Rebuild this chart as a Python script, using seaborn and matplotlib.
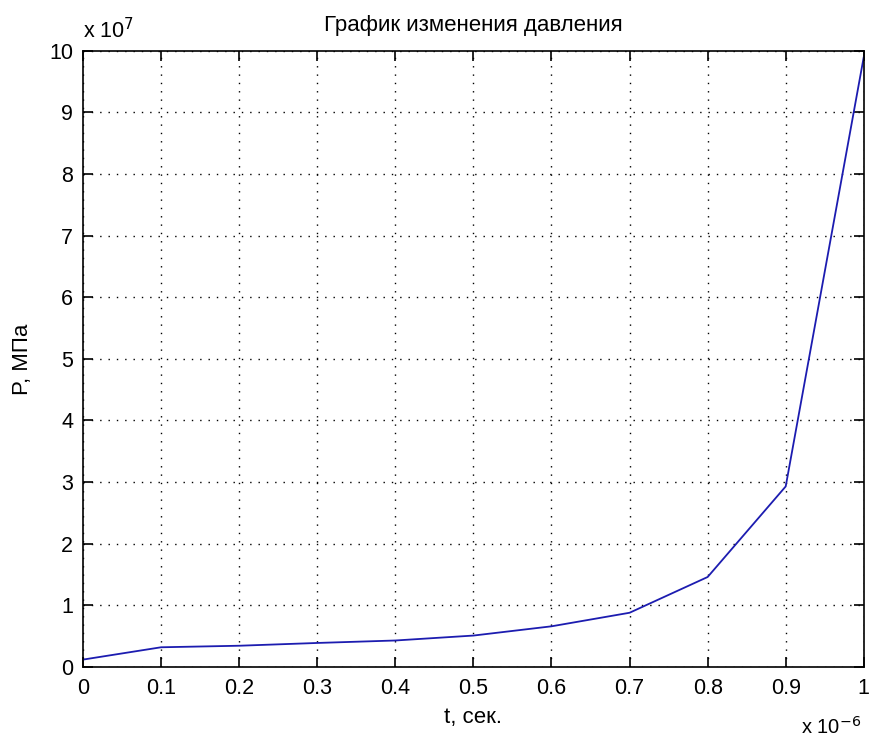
import matplotlib
matplotlib.use("Agg")
import matplotlib.pyplot as plt
import seaborn as sns
import pandas as pd

# Data (time in seconds, pressure in Pa)
t_values = [0.0, 0.1e-6, 0.2e-6, 0.3e-6, 0.4e-6, 0.5e-6, 0.6e-6, 0.7e-6, 0.8e-6, 0.9e-6, 1.0e-6]
p_values = [1.2e6, 3.2e6, 3.45e6, 3.9e6, 4.3e6, 5.1e6, 6.6e6, 8.8e6, 14.6e6, 29.3e6, 99.0e6]
x_ticks = [0, 0.1, 0.2, 0.3, 0.4, 0.5, 0.6, 0.7, 0.8, 0.9, 1]
y_ticks = [0, 1, 2, 3, 4, 5, 6, 7, 8, 9, 10]
title_text = "График изменения давления"
x_label = "t, сек."
y_label = "P, МПа"

sns.set_theme(style="white")
plt.rcParams['font.family'] = ['Liberation Sans', 'DejaVu Sans']

df = pd.DataFrame({"t": t_values, "P": p_values})

fig = plt.figure(figsize=(8.69, 7.44), dpi=100)
ax = fig.add_axes([0.0955, 0.1035, 0.8985, 0.8284])

sns.lineplot(data=df, x="t", y="P", ax=ax, color="#1c1cb0", linewidth=1.3)

ax.set_xlim(0, 1e-6)
ax.set_ylim(0, 1e8)
ax.set_xticks([v * 1e-6 for v in x_ticks])
ax.set_yticks([v * 1e7 for v in y_ticks])
ax.set_xticklabels([f"{v:g}" for v in x_ticks])
ax.set_yticklabels([f"{v:g}" for v in y_ticks])

ax.grid(True, color="black", linestyle=(0, (1, 5)), linewidth=1.0)
for s in ax.spines.values():
    s.set_color("black")
    s.set_linewidth(1.2)
ax.tick_params(axis="both", which="both", direction="in", length=7, width=1.2,
               top=True, right=True, bottom=True, left=True,
               labelsize=15.5, colors="black")
ax.tick_params(axis="x", pad=8)
ax.tick_params(axis="y", pad=7)

ax.set_title(title_text, fontsize=16, pad=14, color="black")
ax.set_xlabel(x_label, fontsize=16, labelpad=6, color="black")
ax.set_ylabel(y_label, fontsize=16, labelpad=12, color="black")

ax.text(0.0, 1.012, r"x 10$^{7}$", transform=ax.transAxes, fontsize=15.5,
        ha="left", va="bottom", color="black")
ax.text(0.997, -0.079, r"x 10$^{-6}$", transform=ax.transAxes, fontsize=14.5,
        ha="right", va="top", color="black")

fig.savefig("out.png", dpi=100, facecolor="white")
